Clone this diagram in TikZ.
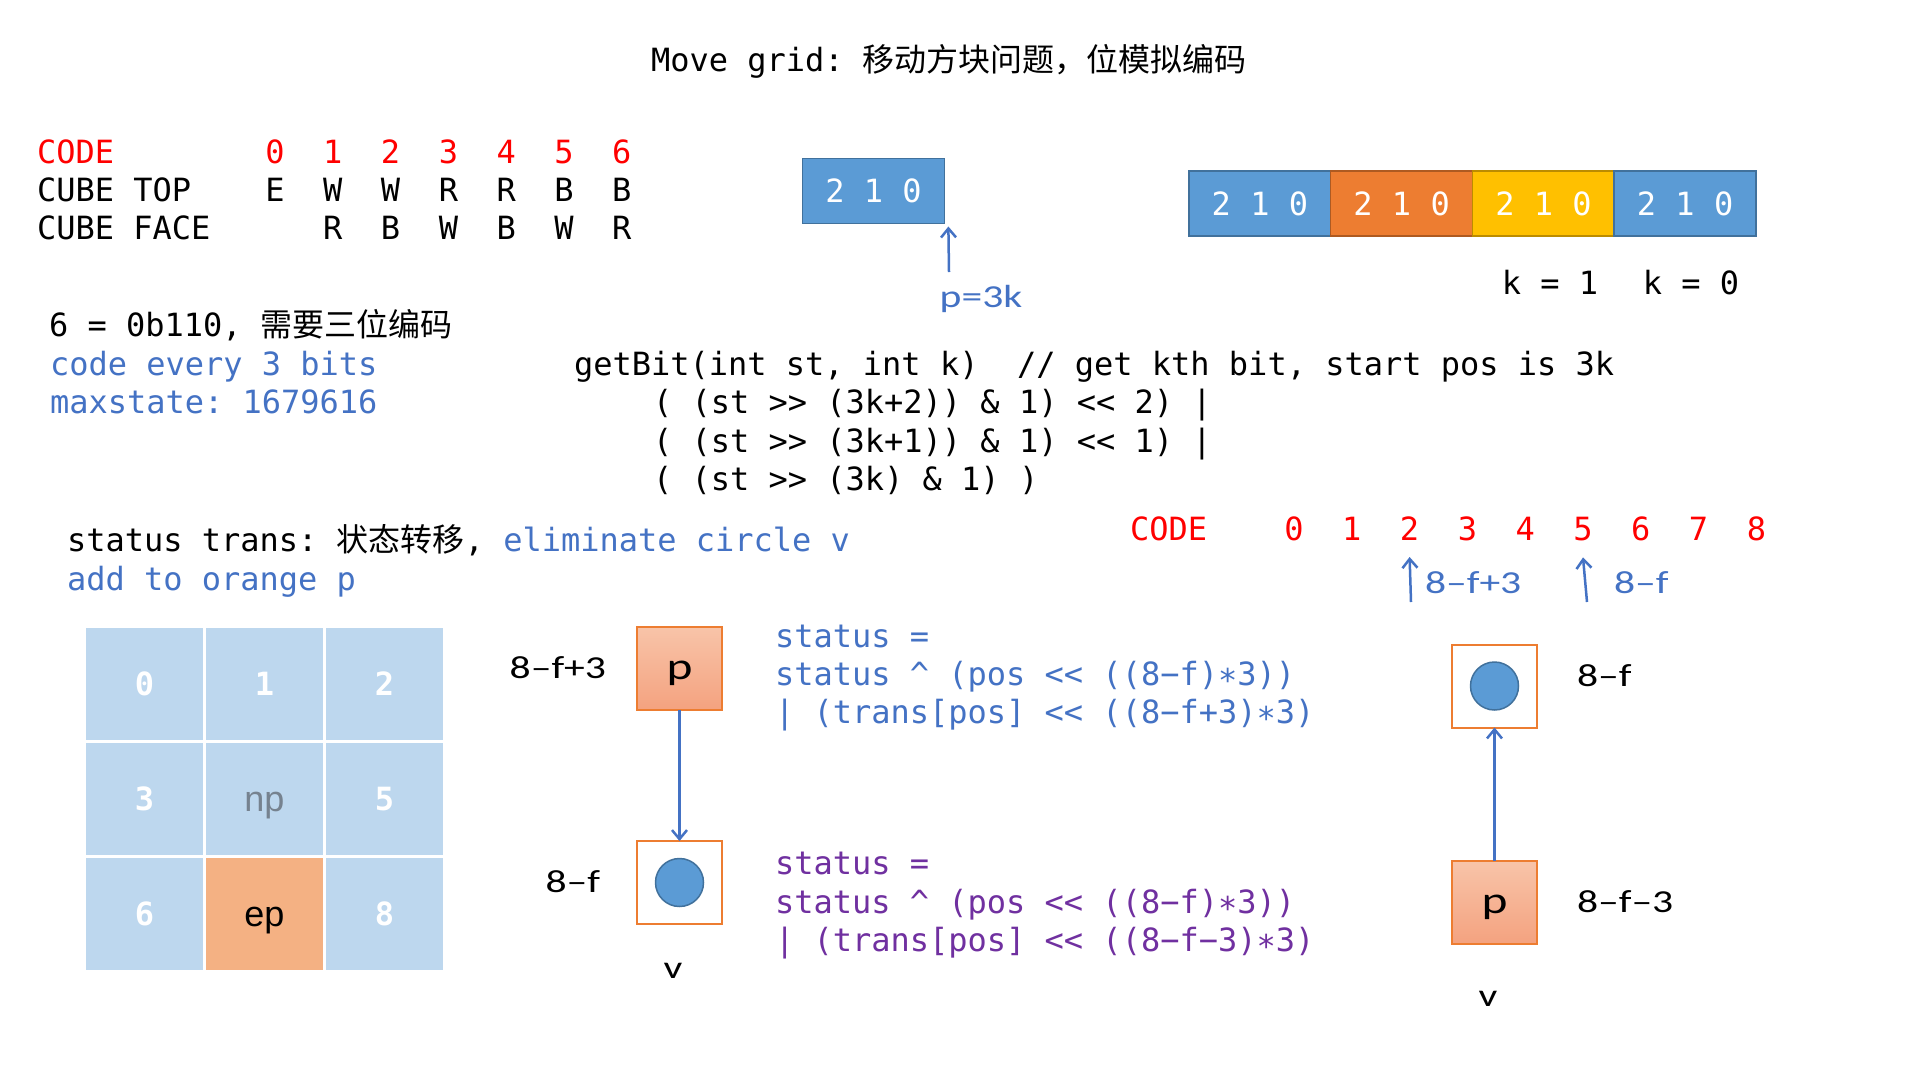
\documentclass[tikz,border=0pt]{standalone}
\usepackage{fontspec}
\setmonofont{DejaVu Sans Mono}
\newfontfamily\cjk{Noto Sans CJK SC}
\newfontfamily\lab[FakeStretch=1.3]{Carlito}
\newfontfamily\hv{Liberation Sans}
\usetikzlibrary{arrows.meta}

\definecolor{codered}{HTML}{FF0000}
\definecolor{txtblue}{HTML}{4472C4}
\definecolor{txtpurple}{HTML}{7030A0}
\definecolor{segblue}{HTML}{5B9BD5}
\definecolor{segblueedge}{HTML}{41719C}
\definecolor{segorange}{HTML}{ED7D31}
\definecolor{segorangeedge}{HTML}{AE5A21}
\definecolor{segyellow}{HTML}{FFC000}
\definecolor{segyellowedge}{HTML}{BC8C00}
\definecolor{gridblue}{HTML}{BDD7EE}
\definecolor{eporange}{HTML}{F4B183}
\definecolor{npgray}{HTML}{76828F}
\definecolor{boxorange}{HTML}{ED7D31}
\definecolor{pTop}{HTML}{F8C4A9}
\definecolor{pBot}{HTML}{F4A27F}

\newcommand\mono{\fontsize{32}{38}\selectfont\ttfamily}
\newcommand\labfont{\lab\fontsize{32}{38}\selectfont}
% shift a glyph down while keeping its box size, so the node stays put
\newcommand\low[2]{\raisebox{-#1}[\height][\depth]{#2}}

\begin{document}
\begin{tikzpicture}[x=1pt,y=-1pt,
  every node/.style={inner sep=0pt, outer sep=0pt, font=\mono},
  bw/.style={anchor=base west},
  bc/.style={anchor=base},
  seg/.style={minimum width=141.75pt, minimum height=65pt, line width=1.5pt, text=white},
  cell/.style={fill=gridblue, minimum width=117pt, minimum height=111.5pt, text=white, font=\mono\bfseries},
  cellsans/.style={font=\hv\fontsize{36}{40}\selectfont},
  pbox/.style={draw=boxorange, line width=2pt, top color=pTop, bottom color=pBot,
    minimum width=85pt, minimum height=83pt, font=\lab\fontsize{38}{40}\selectfont},
  vbox/.style={draw=boxorange, line width=2pt, fill=white, minimum width=85pt, minimum height=83pt},
  dot/.style={circle, fill=segblue, draw=segblueedge, line width=1.5pt, minimum size=48pt},
  lab/.style={font=\labfont},
  arr/.style={draw=txtblue, line width=2.5pt, -{Straight Barb[length=9pt,width=15pt]}}
]
\path[use as bounding box, fill=white] (0,0) rectangle (1920,1080);

% title
\node[bw] (title) at (651,71) {Move~grid:~{\cjk 移动方块问题，位模拟编码}};

% cube code table
\node[bw, text=codered] (code) at (37,163) {CODE};
\node[bw] (top) at (37,201) {CUBE~TOP};
\node[bw] (face) at (37,239) {CUBE~FACE};
\foreach \i/\t/\f in {0/E/,1/W/R,2/W/B,3/R/W,4/R/B,5/B/W,6/B/R}{
  \node[bc, text=codered] (c\i) at (275+57.8*\i,163) {\i};
  \node[bc] (t\i) at (275+57.8*\i,201) {\t};
  \node[bc] (f\i) at (275+57.8*\i,239) {\f};
}

% a single 3-bit group
\node[seg, fill=segblue, draw=segblueedge] (one) at (873.5,191) {2~1~0};
\node[lab, text=txtblue] (p3k) at (981,299) {p=3k};
\coordinate (p3kfoot) at (949,272);
\draw[arr] (p3kfoot) -- ([xshift=4pt,yshift=-3pt]one.south east);

% four 3-bit groups
\node[seg, fill=segblue, draw=segblueedge] (s1) at (1259.9,203.5) {2~1~0};
\node[seg, fill=segorange, draw=segorangeedge] (s2) at (1401.6,203.5) {2~1~0};
\node[seg, fill=segyellow, draw=segyellowedge] (s3) at (1543.4,203.5) {2~1~0};
\node[seg, fill=segblue, draw=segblueedge] (s4) at (1685.1,203.5) {2~1~0};
\node[bc] (k1) at (1550,294) {k~=~1};
\node[bc] (k0) at (1691,294) {k~=~0};

% notes
\node[bw] (n1) at (49,336) {6~=~0b110,~{\cjk 需要三位编码}};
\node[bw, text=txtblue] (n2) at (50,375) {code~every~3~bits};
\node[bw, text=txtblue] (n3) at (50,413) {maxstate:~1679616};

% getBit
\node[bw] (gb0) at (574,375) {getBit(int~st,~int~k)~~//~get~kth~bit,~start~pos~is~3k};
\node[bw] (gb1) at (653,413) {(~(st~>>~(3k+2))~\&~1)~<<~2)~|};
\node[bw] (gb2) at (653,452) {(~(st~>>~(3k+1))~\&~1)~<<~1)~|};
\node[bw] (gb3) at (653,490) {(~(st~>>~(3k)~\&~1)~)};

% status transition
\node[bw] (st1) at (67,551) {status~trans:~{\cjk 状态转移},~\textcolor{txtblue}{eliminate~circle~v}};
\node[bw, text=txtblue] (st2) at (67,590) {add~to~orange~p};

% 3x3 grid
\node[cell] (g0) at (144.5,684) {0};
\node[cell] (g1) at (264.5,684) {1};
\node[cell] (g2) at (384.5,684) {2};
\node[cell] (g3) at (144.5,799) {3};
\node[cell, cellsans, text=npgray] (g4) at (264.5,799) {\low{7pt}{np}};
\node[cell] (g5) at (384.5,799) {5};
\node[cell] (g6) at (144.5,914) {6};
\node[cell, cellsans, fill=eporange, text=black] (g7) at (264.5,914) {\low{7pt}{ep}};
\node[cell] (g8) at (384.5,914) {8};

% move down: p above v
\node[pbox] (pA) at (679.5,668.5) {\low{5pt}{p}};
\node[vbox] (vA) at (679.5,882.5) {};
\node[dot] (cA) at (vA.center) {};
\draw[arr] (pA) -- (vA);
\node[lab, anchor=east] (lpA) at (606,668) {8–f+3};
\node[lab, anchor=east] (lvA) at (600,882) {8–f};
\node[lab] (vlA) at (673,971) {v};

\node[bw, text=txtblue] (b1) at (775,647) {status~=};
\node[bw, text=txtblue] (b2) at (775,685) {status~\textasciicircum~(pos~<<~((8−f)∗3))};
\node[bw, text=txtblue] (b3) at (775,723) {|~(trans[pos]~<<~((8−f+3)∗3)};
\node[bw, text=txtpurple] (u1) at (775,874) {status~=};
\node[bw, text=txtpurple] (u2) at (775,913) {status~\textasciicircum~(pos~<<~((8−f)∗3))};
\node[bw, text=txtpurple] (u3) at (775,951) {|~(trans[pos]~<<~((8−f−3)∗3)};

% code positions 0..8
\node[bw, text=codered] (rcode) at (1130,540) {CODE};
\foreach \i in {0,...,8}{
  \node[bc, text=codered] (rc\i) at (1294+57.8*\i,540) {\i};
}
\coordinate (a1foot) at (1411,602);
\coordinate (a2foot) at (1587,602);
\draw[arr] (a1foot) -- ([yshift=-17pt]rc2.south);
\draw[arr] (a2foot) -- ([yshift=-17pt]rc5.south);
\node[lab, text=txtblue, anchor=west] (la1) at (1425,583) {8–f+3};
\node[lab, text=txtblue, anchor=west] (la2) at (1614,583) {8–f};

% move up: p below v
\node[vbox] (vB) at (1494.5,686) {};
\node[dot] (cB) at (vB.center) {};
\node[pbox] (pB) at (1494.5,902.5) {\low{5pt}{p}};
\draw[arr] (pB) -- (vB);
\node[lab, anchor=west] (lvB) at (1577,676) {8–f};
\node[lab, anchor=west] (lpB) at (1577,902) {8–f–3};
\node[lab] (vlB) at (1488,999) {v};
\end{tikzpicture}
\end{document}
